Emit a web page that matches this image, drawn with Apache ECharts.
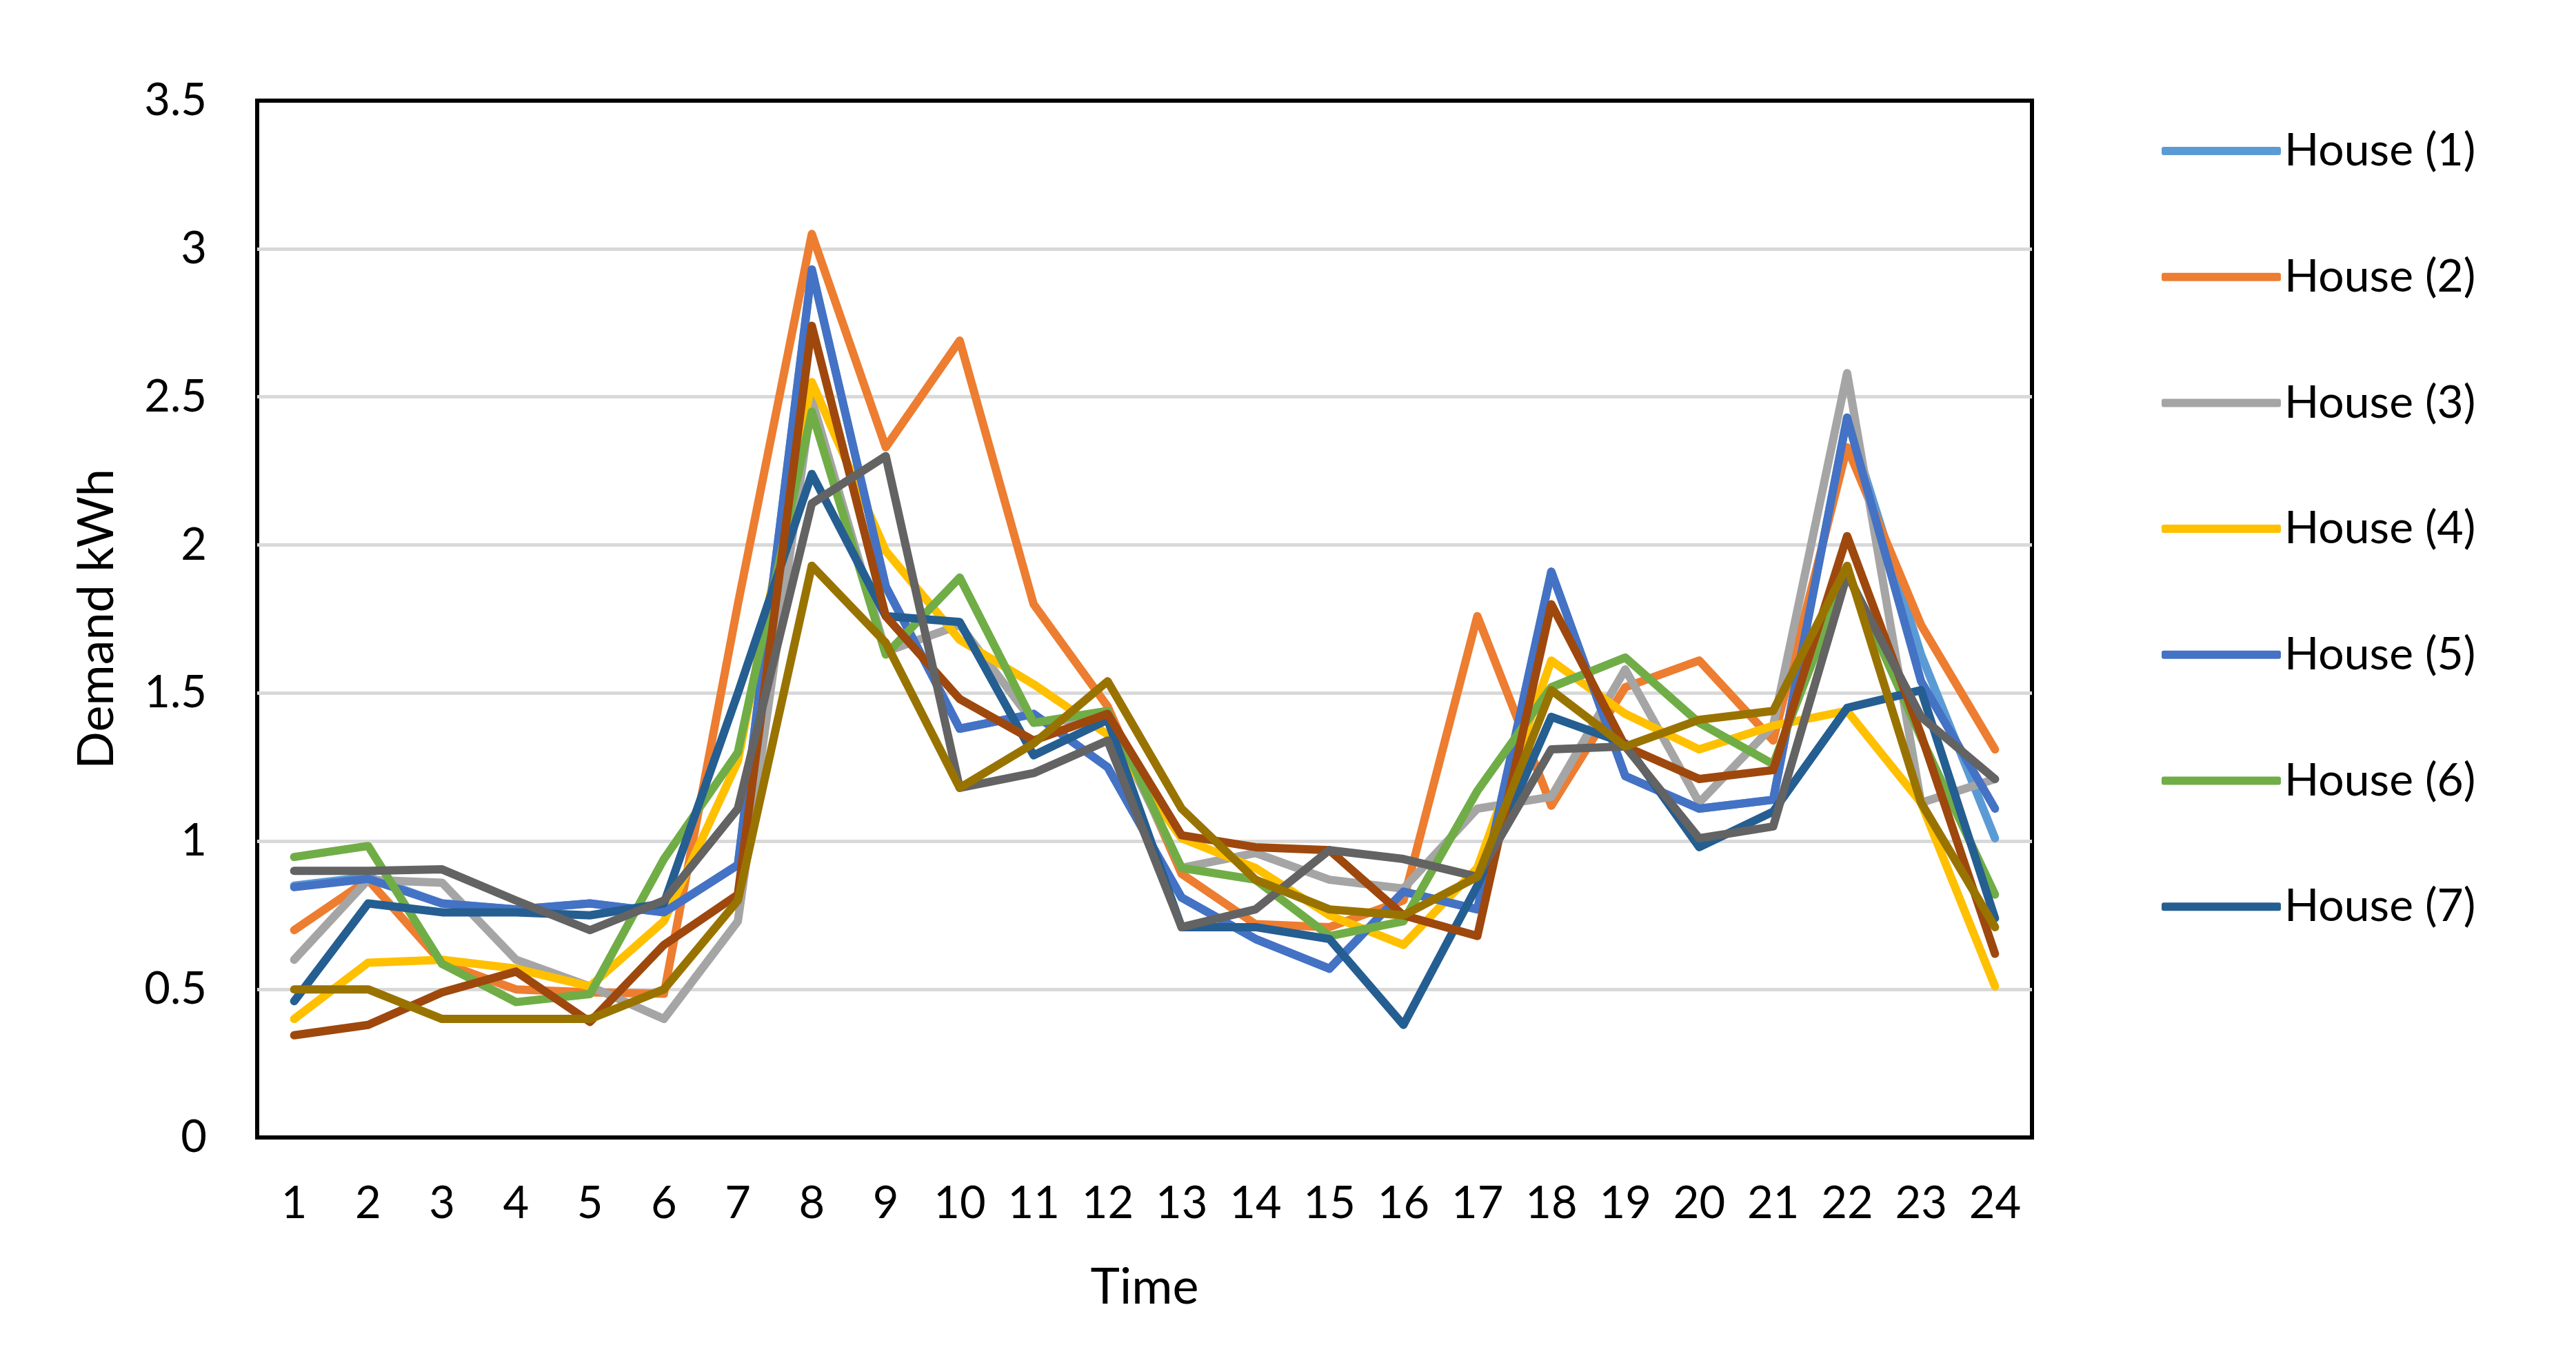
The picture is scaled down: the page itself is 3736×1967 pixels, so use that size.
<!DOCTYPE html>
<html>
<head>
<meta charset="utf-8">
<script src="https://cdn.jsdelivr.net/npm/echarts@6/dist/echarts.min.js"></script>
<style>
html,body{margin:0;padding:0;background:#fff;}
#chart{width:3736px;height:1967px;}
</style>
</head>
<body>
<div id="chart"></div>
<script>
const hours = ['1','2','3','4','5','6','7','8','9','10','11','12','13','14','15','16','17','18','19','20','21','22','23','24'];
const seriesNames = ['House (1)','House (2)','House (3)','House (4)','House (5)','House (6)','House (7)','House (8)','House (9)','House (10)'];
const legendNames = ['House (1)','House (2)','House (3)','House (4)','House (5)','House (6)','House (7)'];
const colors = ['#5B9BD5','#ED7D31','#A5A5A5','#FFC000','#4472C4','#70AD47','#255E91','#9E480E','#636363','#997300'];
const yTicks = [0, 3.5, 0.5];

const house1 = [0.85,0.88,0.79,0.77,0.79,0.76,0.92,2.93,1.86,1.38,1.43,1.25,0.81,0.67,0.57,0.83,0.77,1.91,1.22,1.11,1.14,2.43,1.63,1.01];
const house2 = [0.70,0.87,0.59,0.50,0.49,0.485,1.80,3.05,2.33,2.69,1.80,1.455,0.89,0.72,0.71,0.80,1.76,1.12,1.52,1.61,1.34,2.33,1.73,1.31];
const house3 = [0.60,0.87,0.86,0.60,0.51,0.40,0.73,2.49,1.64,1.73,1.40,1.42,0.91,0.96,0.87,0.84,1.11,1.15,1.58,1.13,1.39,2.58,1.13,1.21];
const house4 = [0.40,0.59,0.60,0.57,0.51,0.73,1.27,2.55,1.98,1.68,1.53,1.36,1.01,0.91,0.75,0.65,0.91,1.61,1.43,1.31,1.39,1.44,1.13,0.51];
const house5 = [0.845,0.873,0.79,0.77,0.79,0.76,0.92,2.93,1.86,1.38,1.43,1.25,0.81,0.67,0.57,0.83,0.77,1.91,1.22,1.11,1.14,2.43,1.54,1.11];
const house6 = [0.947,0.984,0.586,0.457,0.484,0.94,1.30,2.45,1.63,1.89,1.40,1.44,0.91,0.87,0.68,0.73,1.17,1.52,1.62,1.40,1.26,1.91,1.35,0.82];
const house7 = [0.46,0.79,0.76,0.76,0.75,0.79,1.50,2.24,1.76,1.74,1.29,1.41,0.71,0.71,0.67,0.38,0.85,1.42,1.33,0.98,1.10,1.45,1.51,0.74];
const house8 = [0.345,0.38,0.49,0.56,0.39,0.65,0.82,2.74,1.76,1.48,1.34,1.43,1.02,0.98,0.97,0.75,0.68,1.80,1.32,1.21,1.24,2.03,1.36,0.62];
const house9 = [0.90,0.90,0.905,0.80,0.70,0.80,1.11,2.14,2.30,1.18,1.23,1.34,0.71,0.77,0.97,0.94,0.88,1.31,1.32,1.01,1.05,1.90,1.42,1.21];
const house10 = [0.50,0.50,0.40,0.40,0.40,0.50,0.80,1.93,1.67,1.18,1.33,1.54,1.11,0.87,0.77,0.75,0.88,1.51,1.32,1.41,1.44,1.93,1.13,0.71];

const allData = [house1,house2,house3,house4,house5,house6,house7,house8,house9,house10];
const FONT = 'Lato';

const chart = echarts.init(document.getElementById('chart'), null, {renderer:'canvas'});
chart.setOption({
  backgroundColor:'#ffffff',
  animation:false,
  color: colors,
  grid:{left:373, top:146, width:2574, height:1504, show:true, borderColor:'#000', borderWidth:6, backgroundColor:'transparent'},
  legend:{
    data: legendNames, orient:'vertical', left:3130, top:181,
    itemWidth:173, itemHeight:12, itemGap:116.7, icon:'roundRect',
    textStyle:{fontFamily:FONT, fontSize:66, lineHeight:66, color:'#000', padding:[0,0,0,0]}
  },
  xAxis:{
    type:'category', data:hours, boundaryGap:true,
    name:'Time', nameLocation:'middle', nameGap:182,
    nameTextStyle:{fontFamily:FONT, fontSize:72, color:'#000'},
    axisLine:{show:true, lineStyle:{color:'#000', width:6}},
    axisTick:{show:false},
    axisLabel:{fontFamily:FONT, fontSize:65, color:'#000', margin:64, interval:0}
  },
  yAxis:{
    type:'value', min:yTicks[0], max:yTicks[1], interval:yTicks[2],
    name:'Demand kWh', nameLocation:'middle', nameGap:196, nameRotate:90,
    nameTextStyle:{fontFamily:FONT, fontSize:72, color:'#000'},
    axisLine:{show:false}, axisTick:{show:false},
    axisLabel:{fontFamily:FONT, fontSize:65, color:'#000', margin:73},
    splitLine:{show:true, showMinLine:false, showMaxLine:false, lineStyle:{color:'#D9D9D9', width:5}}
  },
  series: seriesNames.map((n,i)=>({
    name:n, type:'line', data:allData[i], showSymbol:false, symbol:'none',
    lineStyle:{width:12, color:colors[i], cap:'round', join:'round'},
    itemStyle:{color:colors[i]}, z:2+i
  }))
});
</script>
</body>
</html>
